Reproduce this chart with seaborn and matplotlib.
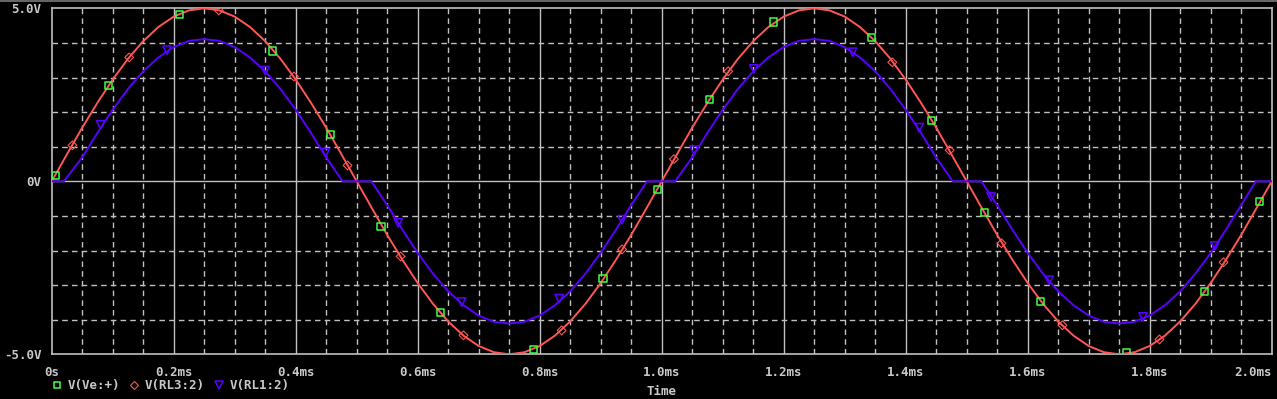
import numpy as np
import pandas as pd
import matplotlib
matplotlib.use("Agg")
import matplotlib.pyplot as plt
from matplotlib.lines import Line2D
import seaborn as sns

# ---------------- data ----------------
time_ms = np.round(np.arange(0, 2.0001, 0.025), 3)

v_rl3 = [0, 0.78, 1.55, 2.27, 2.94, 3.54, 4.05, 4.46, 4.76, 4.94, 5.00, 4.94, 4.76, 4.46, 4.05, 3.54, 2.94, 2.27, 1.55, 0.78,
         0, -0.78, -1.55, -2.27, -2.94, -3.54, -4.05, -4.46, -4.76, -4.94, -5.00, -4.94, -4.76, -4.46, -4.05, -3.54, -2.94, -2.27, -1.55, -0.78,
         0, 0.78, 1.55, 2.27, 2.94, 3.54, 4.05, 4.46, 4.76, 4.94, 5.00, 4.94, 4.76, 4.46, 4.05, 3.54, 2.94, 2.27, 1.55, 0.78,
         0, -0.78, -1.55, -2.27, -2.94, -3.54, -4.05, -4.46, -4.76, -4.94, -5.00, -4.94, -4.76, -4.46, -4.05, -3.54, -2.94, -2.27, -1.55, -0.78,
         0]
v_ve = [0, 0.78, 1.55, 2.27, 2.94, 3.54, 4.05, 4.46, 4.76, 4.94, 5.00, 4.94, 4.76, 4.46, 4.05, 3.54, 2.94, 2.27, 1.55, 0.78,
        0, -0.78, -1.55, -2.27, -2.94, -3.54, -4.05, -4.46, -4.76, -4.94, -5.00, -4.94, -4.76, -4.46, -4.05, -3.54, -2.94, -2.27, -1.55, -0.78,
        0, 0.78, 1.55, 2.27, 2.94, 3.54, 4.05, 4.46, 4.76, 4.94, 5.00, 4.94, 4.76, 4.46, 4.05, 3.54, 2.94, 2.27, 1.55, 0.78,
        0, -0.78, -1.55, -2.27, -2.94, -3.54, -4.05, -4.46, -4.76, -4.94, -5.00, -4.94, -4.76, -4.46, -4.05, -3.54, -2.94, -2.27, -1.55, -0.78,
        0]

t_rl1 = [0.000, 0.020, 0.050, 0.075, 0.100, 0.125, 0.150, 0.175, 0.200, 0.225, 0.250, 0.275, 0.300, 0.325, 0.350, 0.375, 0.400, 0.425, 0.450, 0.477,
         0.524, 0.550, 0.575, 0.600, 0.625, 0.650, 0.675, 0.700, 0.725, 0.750, 0.775, 0.800, 0.825, 0.850, 0.875, 0.900, 0.925, 0.950, 0.976,
         1.022, 1.050, 1.075, 1.100, 1.125, 1.150, 1.175, 1.200, 1.225, 1.250, 1.275, 1.300, 1.325, 1.350, 1.375, 1.400, 1.425, 1.450, 1.477,
         1.524, 1.550, 1.575, 1.600, 1.625, 1.650, 1.675, 1.700, 1.725, 1.750, 1.775, 1.800, 1.825, 1.850, 1.875, 1.900, 1.925, 1.950, 1.974, 2.000]
v_rl1 = [0, 0, 0.69, 1.40, 2.07, 2.67, 3.18, 3.58, 3.88, 4.06, 4.11, 4.06, 3.88, 3.58, 3.18, 2.67, 2.07, 1.40, 0.69, 0,
         0, -0.69, -1.40, -2.07, -2.67, -3.18, -3.58, -3.88, -4.06, -4.11, -4.06, -3.88, -3.58, -3.18, -2.67, -2.07, -1.40, -0.69, 0,
         0, 0.69, 1.40, 2.07, 2.67, 3.18, 3.58, 3.88, 4.06, 4.11, 4.06, 3.88, 3.58, 3.18, 2.67, 2.07, 1.40, 0.69, 0,
         0, -0.69, -1.40, -2.07, -2.67, -3.18, -3.58, -3.88, -4.06, -4.11, -4.06, -3.88, -3.58, -3.18, -2.67, -2.07, -1.40, -0.69, 0, 0]

# marker points
mk_ve_t = [0.006, 0.093, 0.210, 0.362, 0.457, 0.540, 0.637, 0.790, 0.904, 0.993, 1.078, 1.183, 1.344, 1.442, 1.529, 1.621, 1.762, 1.890, 1.980]
mk_ve_v = [0.17, 2.77, 4.83, 3.77, 1.36, -1.30, -3.79, -4.86, -2.80, -0.23, 2.37, 4.60, 4.16, 1.76, -0.90, -3.47, -4.96, -3.18, -0.58]
mk_rl3_t = [0.034, 0.127, 0.274, 0.397, 0.485, 0.572, 0.675, 0.836, 0.935, 1.020, 1.109, 1.378, 1.472, 1.557, 1.657, 1.816, 1.921]
mk_rl3_v = [1.04, 3.58, 4.94, 3.03, 0.46, -2.17, -4.45, -4.31, -1.97, 0.64, 3.18, 3.44, 0.90, -1.79, -4.16, -4.57, -2.34]
mk_rl1_t = [0.080, 0.189, 0.350, 0.449, 0.568, 0.672, 0.832, 0.935, 1.053, 1.151, 1.313, 1.422, 1.540, 1.635, 1.789, 1.907]
mk_rl1_v = [1.63, 3.79, 3.20, 0.83, -1.20, -3.49, -3.39, -1.11, 0.90, 3.25, 3.73, 1.55, -0.45, -2.86, -3.92, -1.87]

series_names = ["V(Ve:+)", "V(RL3:2)", "V(RL1:2)"]
x_ticks = [0.0, 0.2, 0.4, 0.6, 0.8, 1.0, 1.2, 1.4, 1.6, 1.8, 2.0]
x_tick_labels = ["0s", "0.2ms", "0.4ms", "0.6ms", "0.8ms", "1.0ms", "1.2ms", "1.4ms", "1.6ms", "1.8ms", "2.0ms"]
y_ticks = [-5.0, 0.0, 5.0]
y_tick_labels = ["-5.0V", "0V", "5.0V"]
x_label = "Time"

# ---------------- style ----------------
GREEN = "#40ff40"
RED = "#ff5555"
BLUE = "#5a00ff"
GRAY = "#c0c0c0"
TXT = "#c8c8c8"

sns.set_style("dark")
plt.rcParams['font.family'] = ['DejaVu Sans Mono', 'DejaVu Sans']

W, H = 1277, 399
fig = plt.figure(figsize=(W / 100, H / 100), dpi=100, facecolor="black")
x0, x1 = 51.7, 1271.7
ytop, ybot = 8.3, 354.3
ax = fig.add_axes([x0 / W, (H - ybot) / H, (x1 - x0) / W, (ybot - ytop) / H])
ax.set_facecolor("black")

# grid
for xv in np.arange(0.05, 2.0, 0.05):
    if abs(xv / 0.2 - round(xv / 0.2)) < 1e-6:
        ax.axvline(xv, color=GRAY, lw=1.0, zorder=1)
    else:
        ax.axvline(xv, color=GRAY, lw=1.0, ls=(0, (4, 3)), zorder=1)
for yv in [-4, -3, -2, -1, 1, 2, 3, 4]:
    ax.axhline(yv, color=GRAY, lw=1.0, ls=(0, (4, 3)), zorder=1)
ax.axhline(0, color=GRAY, lw=1.0, zorder=1)

df_main = pd.DataFrame({"t": time_ms, "ve": v_ve, "rl3": v_rl3})
df_rl1 = pd.DataFrame({"t": t_rl1, "rl1": v_rl1})

# V(Ve:+) trace lies exactly under V(RL3:2): draw it thin so the red one covers it
sns.lineplot(data=df_main, x="t", y="ve", color=GREEN, lw=0.4, ax=ax, zorder=3)
sns.lineplot(data=df_main, x="t", y="rl3", color=RED, lw=1.4, ax=ax, zorder=4)
sns.lineplot(data=df_rl1, x="t", y="rl1", color=BLUE, lw=1.4, ax=ax, zorder=4)

sns.scatterplot(x=mk_ve_t, y=mk_ve_v, marker="s", s=28, facecolors="none", edgecolor=GREEN, linewidth=1.1, ax=ax, zorder=6)
sns.scatterplot(x=mk_rl3_t, y=mk_rl3_v, marker="D", s=20, facecolors="none", edgecolor=RED, linewidth=0.8, ax=ax, zorder=6)
sns.scatterplot(x=mk_rl1_t, y=mk_rl1_v, marker="v", s=36, facecolors="none", edgecolor=BLUE, linewidth=1.1, ax=ax, zorder=6)

ax.set_xlim(0, 2.0)
ax.set_ylim(-5.0, 5.0)
ax.set_xticks(x_ticks)
ax.set_xticklabels(x_tick_labels, fontweight="bold")
ax.set_yticks(y_ticks)
ax.set_yticklabels(y_tick_labels, fontweight="bold")
ax.tick_params(axis="both", colors=GRAY, labelcolor=TXT, labelsize=9, length=4, width=1, direction="out")
ax.tick_params(axis="x", pad=4.5)
ax.tick_params(axis="y", pad=3.5)
ax.get_xticklabels()[-1].set_ha("right")
ax.get_xticklabels()[-1].set_x(2.0)
for sp in ax.spines.values():
    sp.set_visible(True)
    sp.set_color(GRAY)
    sp.set_linewidth(1.2)
ax.grid(False)
ax.set_xlabel(x_label, color=TXT, fontsize=9, fontweight="bold")
ax.set_ylabel("")
ax.xaxis.set_label_coords(0.5, -(398 - ybot) / (ybot - ytop))
ax.xaxis.label.set_va("bottom")

handles = [
    Line2D([], [], ls="none", marker="s", mfc="none", mec=GREEN, ms=5, mew=1.1),
    Line2D([], [], ls="none", marker="D", mfc="none", mec=RED, ms=4, mew=0.8),
    Line2D([], [], ls="none", marker="v", mfc="none", mec=BLUE, ms=5.5, mew=1.1),
]
leg = fig.legend(handles, series_names, loc="center left", bbox_to_anchor=(x0 / W, (H - 385.7) / H),
                 ncol=3, frameon=False, labelcolor=TXT, borderpad=0, borderaxespad=0,
                 prop={"size": 9, "weight": "bold"},
                 handlelength=0.8, handletextpad=0.45, columnspacing=0.75)

fig.add_artist(Line2D([0, 1], [1 - 0.7 / H, 1 - 0.7 / H], color="#7a7a7a", lw=1.2, transform=fig.transFigure))

fig.savefig("out.png", dpi=100, facecolor="black")
